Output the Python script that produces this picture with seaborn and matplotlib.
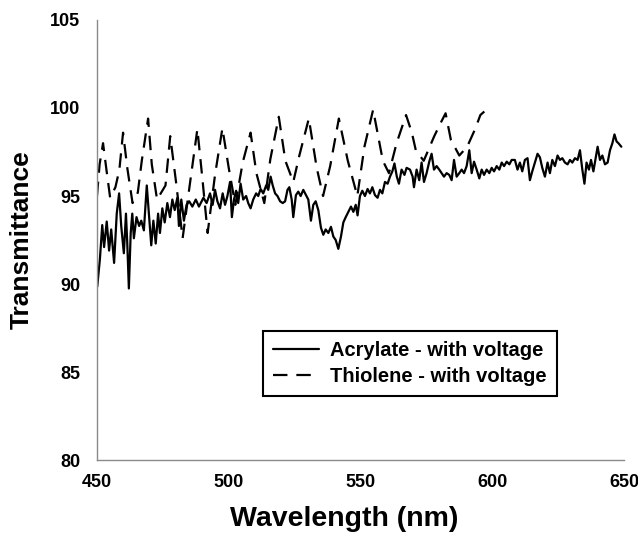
import matplotlib
matplotlib.use("Agg")
import matplotlib.pyplot as plt
import seaborn as sns
import pandas as pd

# Acrylate - with voltage (solid, noisy trace)
acrylate_nm = [
    450.1, 451.1, 452.0, 452.7, 453.7, 454.6, 455.4, 456.5, 457.5, 458.4,
    459.2, 460.2, 461.0, 461.5, 462.1, 462.8, 463.4, 464.0, 465.0, 466.0,
    466.8, 467.8, 468.9, 469.7, 470.6, 471.4, 472.3, 473.2, 473.9, 474.8,
    475.7, 476.7, 477.7, 478.6, 479.5, 480.5, 481.1, 482.0, 483.0, 484.0,
    485.0, 486.2, 487.5, 488.7,
    490.4, 491.6, 492.9, 493.9, 494.8, 495.7, 496.7, 497.7, 498.6, 499.5,
    500.5, 501.2, 502.0, 502.8, 503.6, 504.5, 505.5, 506.6, 507.4, 508.3,
    509.3, 510.4, 511.2, 512.1, 513.1, 514.2, 515.0, 515.9, 516.7, 517.6,
    518.5, 519.5, 520.5, 521.4, 522.3, 523.0, 523.9, 524.5, 525.5, 526.4,
    527.3, 528.3,
    530.2, 531.2, 532.1, 533.0, 534.0, 535.0, 535.9, 536.8, 537.8, 538.8,
    539.7, 540.6, 541.6, 542.6, 543.5, 544.4, 545.4, 546.4, 547.3, 548.2,
    548.9, 549.8, 550.7, 551.7, 552.7, 553.6, 554.5, 555.5, 556.5, 557.4,
    558.3, 559.3, 560.3, 561.2, 562.1, 562.9, 563.8, 564.6, 565.6, 566.7,
    567.5,
    568.8, 569.8, 570.3, 571.3, 572.3, 573.2, 574.1, 575.1, 576.1, 577.0,
    577.9, 578.9, 579.9, 580.8, 581.7, 582.7, 583.7, 584.6, 585.5, 586.5,
    587.5, 588.4, 589.3, 590.3, 591.3, 592.2, 593.1, 594.1, 595.1, 596.0,
    596.9, 597.9, 598.9, 599.8, 600.7, 601.7, 602.7, 603.6, 604.5, 605.5,
    606.5, 607.4,
    608.6, 609.6, 610.5, 611.4, 612.4, 613.4, 614.3, 615.2, 616.2, 617.2,
    618.1, 619.0, 620.0, 621.0, 621.9, 622.8, 623.8, 624.8, 625.7, 626.6,
    627.6, 628.6, 629.5, 630.4, 631.4, 632.4, 633.3, 634.2, 635.0, 635.8,
    636.7, 637.5, 638.4, 639.3, 640.0, 640.9, 641.8, 642.8, 643.8, 644.7,
    645.6, 646.4, 647.2, 647.9, 649.0,
]
acrylate_t = [
    89.85, 91.4, 93.35, 92.1, 93.55, 91.9, 93.1, 91.2, 94.0, 95.15,
    93.3, 91.75, 94.0, 92.3, 89.75, 92.9, 94.0, 92.6, 93.8, 93.3,
    93.6, 93.05, 95.6, 94.0, 92.2, 93.6, 92.3, 94.0, 92.9, 94.3,
    93.5, 94.6, 93.8, 94.8, 94.2, 94.9, 93.3, 94.8, 93.6, 94.5,
    94.7, 94.4, 94.8, 94.4,
    94.9, 94.6, 95.15, 94.5, 95.35, 94.7, 94.3, 95.15, 94.5, 95.0,
    95.8, 93.8, 94.8, 95.3, 94.6, 95.7, 94.8, 95.0, 94.6, 94.3,
    94.8, 95.15, 95.0, 95.4, 95.15, 95.6, 95.35, 96.1, 95.6, 95.15,
    95.0, 94.7, 94.6, 94.7, 95.35, 95.5, 94.8, 93.8, 95.05, 95.25,
    95.0, 95.35,
    94.8, 93.6, 94.5, 94.7, 94.2, 93.2, 92.8, 93.1, 92.9, 93.25,
    92.7, 92.5, 92.0, 92.7, 93.5, 93.8, 94.1, 94.4, 94.1, 94.5,
    93.9, 95.0, 95.3, 95.0, 95.4, 95.15, 95.5, 95.05, 94.9, 95.35,
    95.15, 95.8, 95.7, 96.1, 96.4, 96.85, 96.1, 95.7, 96.5, 96.2,
    96.6,
    96.5, 96.1, 95.5, 96.5, 95.9, 96.9, 95.8, 96.3, 96.95, 97.4,
    96.5, 96.7, 96.5, 96.3, 96.1, 96.3, 96.2, 95.9, 97.05, 96.1,
    96.3, 96.5, 96.3, 96.7, 97.6, 96.3, 96.95, 96.5, 96.0, 96.5,
    96.2, 96.5, 96.3, 96.6, 96.4, 96.7, 96.5, 96.9, 96.7, 96.95,
    96.8, 97.05,
    97.05, 96.5, 96.9, 96.4, 97.05, 97.15, 95.9, 96.4, 96.9, 97.4,
    97.2, 96.6, 96.1, 96.9, 96.3, 97.05, 96.7, 97.3, 97.05, 97.15,
    96.9, 96.8, 97.05, 96.9, 97.15, 97.05, 97.6, 96.5, 95.7, 96.9,
    96.5, 97.05, 96.4, 97.2, 97.8, 97.05, 97.3, 96.8, 96.9, 97.6,
    98.0, 98.5, 98.1, 98.0, 97.8,
]

# Thiolene - with voltage (dashed, oscillating trace)
thiolene_nm = [
    450.0, 451.0, 452.3, 453.5, 455.0, 457.0, 458.5, 459.9, 461.5, 463.5,
    465.5, 467.0, 469.4, 470.8, 472.8, 476.0, 477.8, 480.0, 482.5, 485.0,
    488.1, 490.0, 492.0, 494.8, 497.6, 500.0, 502.5, 505.3, 508.3, 510.5,
    513.5, 515.8, 519.0, 521.5, 524.5, 526.8, 530.4, 533.4, 535.8, 538.5,
    541.8, 545.2, 548.8, 551.5, 554.8, 558.5, 560.8, 563.7, 567.3, 569.5,
    571.0, 574.0, 578.0, 580.6, 582.3, 584.3, 587.5, 590.5, 593.5, 595.5,
    597.0,
]
thiolene_t = [
    95.0, 96.8, 98.0, 96.6, 94.9, 95.5, 96.5, 98.6, 96.6, 94.6,
    95.2, 97.0, 99.4, 96.8, 94.8, 95.6, 98.4, 95.8, 92.6, 95.4,
    98.8, 96.0, 92.9, 96.2, 98.85, 96.6, 94.5, 96.9, 98.6, 96.3,
    94.6, 97.1, 99.5, 97.0, 95.8, 97.3, 99.4, 96.6, 95.0, 96.7,
    99.4, 97.0, 95.0, 97.8, 99.9, 97.0, 96.3, 98.0, 99.6, 98.6,
    97.6, 97.0, 98.4, 99.2, 99.7, 98.2, 97.3, 97.8, 98.8, 99.6,
    99.8,
]

acr = pd.DataFrame({"nm": acrylate_nm, "T": acrylate_t})
thi = pd.DataFrame({"nm": thiolene_nm, "T": thiolene_t})

sns.set_theme(style="white")
plt.rcParams["font.family"] = ["Liberation Sans", "DejaVu Sans"]
plt.rcParams["font.weight"] = "bold"
plt.rcParams["text.color"] = "black"
plt.rcParams["axes.labelcolor"] = "black"
plt.rcParams["xtick.labelcolor"] = "black"
plt.rcParams["ytick.labelcolor"] = "black"

fig = plt.figure(figsize=(6.38, 5.4), dpi=100)
ax = fig.add_axes([0.152, 0.148, 0.826, 0.815])

sns.lineplot(data=acr, x="nm", y="T", ax=ax, color="black", lw=1.6,
             estimator=None, label="Acrylate - with voltage")
sns.lineplot(data=thi, x="nm", y="T", ax=ax, color="black", lw=1.6,
             estimator=None, label="Thiolene - with voltage")
ax.lines[1].set_dashes([6.5, 4])

ax.set_xlim(450, 650)
ax.set_ylim(80, 105)
ax.set_xticks([450, 500, 550, 600, 650])
ax.set_yticks([80, 85, 90, 95, 100, 105])

sns.despine(ax=ax)
for s in ["left", "bottom"]:
    ax.spines[s].set_color("#8a8a8a")
    ax.spines[s].set_linewidth(1.0)
ax.tick_params(axis="both", direction="in", length=4, width=1,
               color="#8a8a8a", labelsize=13, labelcolor="black")
ax.tick_params(axis="y", pad=12)
ax.tick_params(axis="x", pad=10)
for lab in ax.get_xticklabels() + ax.get_yticklabels():
    lab.set_fontweight("bold")

ax.set_xlabel("Wavelength (nm)", fontsize=20.5, fontweight="bold",
              color="black")
ax.xaxis.set_label_coords(0.47, -0.105)
ax.set_ylabel("Transmittance", fontsize=19, fontweight="bold",
              labelpad=12, color="black")

leg = ax.legend(loc="center", bbox_to_anchor=(0.594, 0.22), fancybox=False,
                framealpha=1, edgecolor="black", handlelength=2.3,
                handletextpad=0.55, prop={"weight": "bold", "size": 14.5},
                borderpad=0.5, labelspacing=0.35)
leg.get_frame().set_linewidth(1.5)
for t in leg.get_texts():
    t.set_color("black")

fig.savefig("out.png", dpi=100)
